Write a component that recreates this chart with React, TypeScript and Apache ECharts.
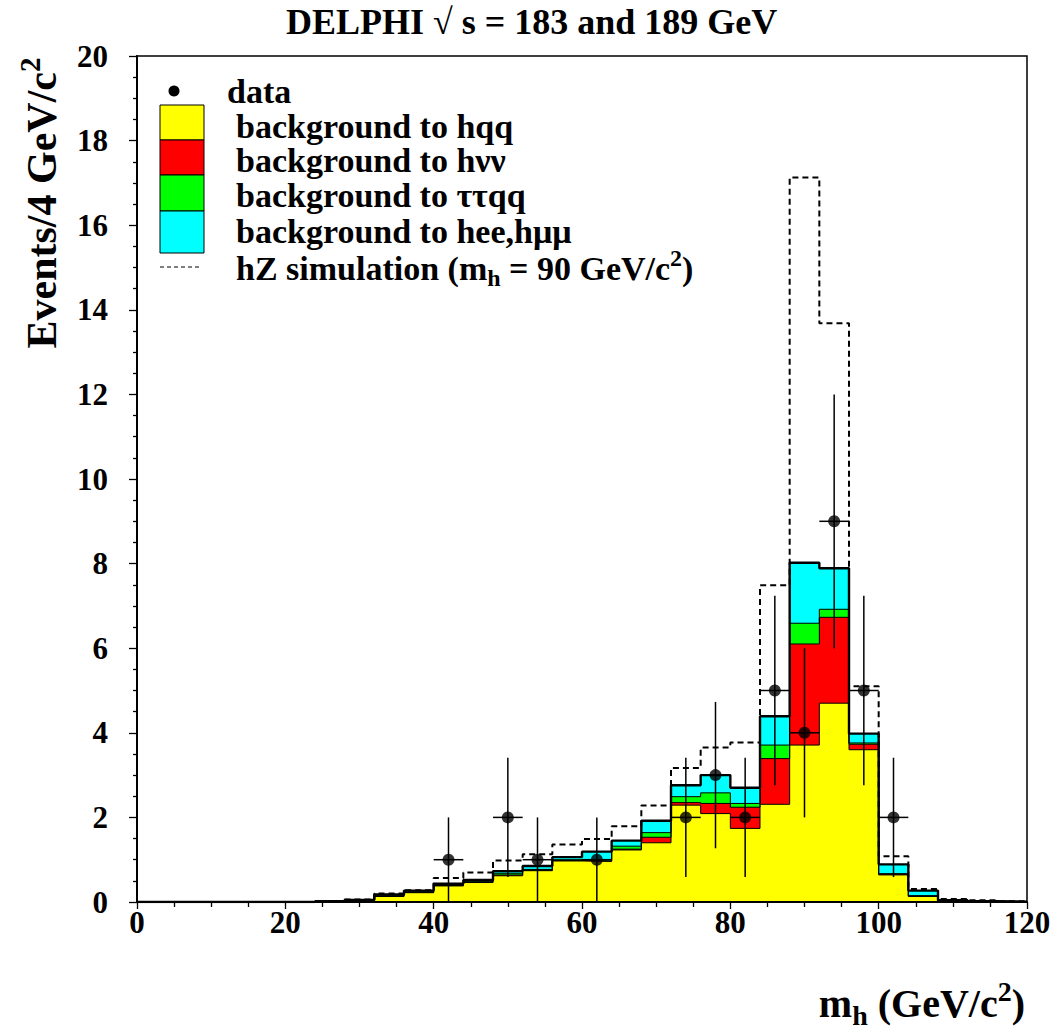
import { useEffect, useRef } from "react";
import * as echarts from "echarts";

const FONT = "'Liberation Serif', 'Times New Roman', serif";

// lower edges of the 4 GeV/c^2 bins, last upper edge is 120
const binLow = [0, 4, 8, 12, 16, 20, 24, 28, 32, 36, 40, 44, 48, 52, 56, 60, 64, 68, 72, 76, 80, 84, 88, 92, 96, 100, 104, 108, 112, 116];
const binHigh = 120;

// background contributions per bin (events / 4 GeV/c^2)
const bgHqq = [0, 0, 0, 0, 0, 0, 0.01, 0.03, 0.13, 0.22, 0.38, 0.46, 0.62, 0.74, 0.97, 0.96, 1.23, 1.4, 2.29, 2.09, 1.74, 2.31, 3.71, 4.7, 3.6, 0.64, 0.13, 0.02, 0.01, 0];
const bgHnn = [0, 0, 0, 0, 0, 0, 0, 0, 0.01, 0.01, 0.01, 0.01, 0.02, 0.01, 0.01, 0.01, 0.02, 0.13, 0.06, 0.24, 0.5, 1.08, 2.39, 2.03, 0.13, 0.02, 0.01, 0, 0, 0];
const bgTtqq = [0, 0, 0, 0, 0, 0, 0, 0.01, 0.01, 0.01, 0.02, 0.02, 0.04, 0.02, 0.02, 0.03, 0.07, 0.11, 0.14, 0.25, 0.09, 0.32, 0.49, 0.19, 0.03, 0.01, 0.01, 0.01, 0, 0];
const bgHeeHmm = [0, 0, 0, 0, 0, 0, 0.01, 0.01, 0.03, 0.03, 0.02, 0.03, 0.05, 0.08, 0.06, 0.19, 0.13, 0.28, 0.27, 0.42, 0.37, 0.68, 1.43, 0.97, 0.22, 0.22, 0.12, 0.01, 0.01, 0.01];

// hZ simulation, mh = 90 GeV/c^2 (dashed)
const hzSim = [0, 0, 0, 0, 0, 0, 0.02, 0.06, 0.2, 0.28, 0.57, 0.7, 0.98, 1.13, 1.36, 1.49, 1.79, 2.28, 3.17, 3.65, 3.77, 7.49, 17.13, 13.68, 5.1, 1.08, 0.31, 0.07, 0.04, 0.02];

// data points
const dataMass = [42, 50, 54, 62, 74, 78, 82, 86, 90, 94, 98, 102];
const dataEvents = [1, 2, 1, 1, 2, 3, 2, 5, 4, 9, 5, 2];
const dataErr = [1, 1.41, 1, 1, 1.41, 1.73, 1.41, 2.24, 2, 3, 2.24, 1.41];
const dataHalfWidth = 2;

const stepData = (vals: number[]) =>
  binLow.map((x, i) => [x, vals[i]]).concat([[binHigh, vals[vals.length - 1]]]);

const addUp = (a: number[], b: number[]) => a.map((v, i) => Math.round((v + b[i]) * 1000) / 1000);

function App() {
  const chartRef = useRef<HTMLDivElement>(null);

  useEffect(() => {
    const chart = echarts.init(chartRef.current, null, { renderer: "svg" });

    // cumulative stack: hqq, +hvv, +ttqq, +hee/hmm
    const cum1 = bgHqq;
    const cum2 = addUp(cum1, bgHnn);
    const cum3 = addUp(cum2, bgTtqq);
    const cum4 = addUp(cum3, bgHeeHmm);

    const histo = (name: string, vals: number[], color: string, lw: number) => ({
      type: "line",
      name,
      data: stepData(vals),
      step: "end",
      symbol: "none",
      silent: true,
      lineStyle: { color: "#000", width: lw },
      areaStyle: { color, opacity: 1 },
      z: 2
    });

    const txt = { fontFamily: FONT, fontWeight: "bold", fill: "#000" };

    const legendRows = [
      { label: "background to hqq", y: 126 },
      { label: "background to h\u03bd\u03bd", y: 160 },
      { label: "background to \u03c4\u03c4qq", y: 195 },
      { label: "background to hee,h\u03bc\u03bc", y: 231 }
    ];

    const option: any = {
      animation: false,
      title: {
        text: "DELPHI \u221a s = 183 and 189 GeV",
        left: 281,
        top: 0,
        padding: [4, 5, 5, 5],
        textStyle: { fontFamily: FONT, fontWeight: "bold", fontSize: 36, color: "#000" }
      },
      grid: {
        left: 137,
        right: 28,
        top: 56,
        bottom: 129,
        show: true,
        borderColor: "#000",
        borderWidth: 1.5,
        backgroundColor: "transparent"
      },
      xAxis: {
        type: "value",
        min: 0,
        max: 120,
        interval: 20,
        z: 10,
        axisLine: { lineStyle: { color: "#000", width: 2 } },
        axisTick: { length: 7, lineStyle: { color: "#000", width: 1.3 } },
        minorTick: { show: true, splitNumber: 4, length: 5, lineStyle: { color: "#000", width: 1.3 } },
        splitLine: { show: false },
        axisLabel: { color: "#000", fontFamily: FONT, fontWeight: "bold", fontSize: 31, margin: 5 }
      },
      yAxis: {
        type: "value",
        min: 0,
        max: 20,
        interval: 2,
        z: 10,
        axisLine: { lineStyle: { color: "#000", width: 2 } },
        axisTick: { length: 8, lineStyle: { color: "#000", width: 1.3 } },
        minorTick: { show: true, splitNumber: 4, length: 4, lineStyle: { color: "#000", width: 1.3 } },
        splitLine: { show: false },
        axisLabel: { color: "#000", fontFamily: FONT, fontWeight: "bold", fontSize: 31, margin: 29 }
      },
      series: [
        histo("background to hee,h\u03bc\u03bc", cum4, "#00ffff", 2.4),
        histo("background to \u03c4\u03c4qq", cum3, "#00ff00", 1),
        histo("background to h\u03bd\u03bd", cum2, "#ff0000", 1),
        histo("background to hqq", cum1, "#ffff00", 1),
        {
          type: "line",
          name: "hZ simulation",
          data: stepData(hzSim),
          step: "end",
          symbol: "none",
          silent: true,
          lineStyle: { color: "#000", width: 2, type: [6, 4] },
          z: 4
        },
        {
          type: "custom",
          name: "data errors",
          data: dataMass.map((x, i) => [x, dataEvents[i], dataErr[i]]),
          encode: { x: 0, y: 1 },
          z: 5,
          silent: true,
          renderItem: (params: any, api: any) => {
            const x = api.value(0);
            const y = api.value(1);
            const e = api.value(2);
            const top = api.coord([x, y + e]);
            const bot = api.coord([x, Math.max(0, y - e)]);
            const l = api.coord([x - dataHalfWidth, y]);
            const r = api.coord([x + dataHalfWidth, y]);
            const st = { stroke: "#000", lineWidth: 1.5 };
            return {
              type: "group",
              children: [
                { type: "line", shape: { x1: top[0], y1: top[1], x2: bot[0], y2: bot[1] }, style: st },
                { type: "line", shape: { x1: l[0], y1: l[1], x2: r[0], y2: r[1] }, style: st }
              ]
            };
          }
        },
        {
          type: "scatter",
          name: "data",
          data: dataMass.map((x, i) => [x, dataEvents[i]]),
          symbol: "circle",
          symbolSize: 12,
          itemStyle: { color: "#000" },
          z: 6
        }
      ],
      graphic: {
        elements: [
          // y axis title
          {
            type: "text",
            x: 42,
            y: 203,
            rotation: Math.PI / 2,
            style: {
              text: "{m|Events/4 GeV/c}{p|2}",
              align: "center",
              verticalAlign: "middle",
              rich: {
                m: { ...txt, fontSize: 42, lineHeight: 54 },
                p: { ...txt, fontSize: 29, lineHeight: 18, verticalAlign: "top" }
              }
            }
          },
          // x axis title
          {
            type: "text",
            x: 1025,
            y: 1003,
            style: {
              text: "{m|m}{s|h}{m| (GeV/c}{p|2}{m|)}",
              align: "right",
              verticalAlign: "middle",
              rich: {
                m: { ...txt, fontSize: 40, lineHeight: 52 },
                s: { ...txt, fontSize: 28, lineHeight: 20, verticalAlign: "bottom" },
                p: { ...txt, fontSize: 28, lineHeight: 16, verticalAlign: "top" }
              }
            }
          },
          // legend
          { type: "circle", shape: { cx: 174, cy: 91, r: 5.5 }, style: { fill: "#000" } },
          { type: "text", x: 227, y: 91, style: { ...txt, text: "data", fontSize: 34, align: "left", verticalAlign: "middle" } },
          { type: "rect", shape: { x: 160, y: 105, width: 44, height: 35 }, style: { fill: "#ffff00", stroke: "#000", lineWidth: 1 } },
          { type: "rect", shape: { x: 160, y: 140, width: 44, height: 35 }, style: { fill: "#ff0000", stroke: "#000", lineWidth: 1 } },
          { type: "rect", shape: { x: 160, y: 175, width: 44, height: 36 }, style: { fill: "#00ff00", stroke: "#000", lineWidth: 1 } },
          { type: "rect", shape: { x: 160, y: 211, width: 44, height: 42 }, style: { fill: "#00ffff", stroke: "#000", lineWidth: 1 } },
          ...legendRows.map((r) => ({
            type: "text",
            x: 236,
            y: r.y,
            style: { ...txt, text: r.label, fontSize: 34, align: "left", verticalAlign: "middle" }
          })),
          { type: "line", shape: { x1: 160, y1: 267, x2: 200, y2: 267 }, style: { stroke: "#000", lineWidth: 1, lineDash: [4, 3] } },
          {
            type: "text",
            x: 236,
            y: 268,
            style: {
              text: "{m|hZ simulation (m}{s|h}{m| = 90 GeV/c}{p|2}{m|)}",
              align: "left",
              verticalAlign: "middle",
              rich: {
                m: { ...txt, fontSize: 34, lineHeight: 44 },
                s: { ...txt, fontSize: 24, lineHeight: 16, verticalAlign: "bottom" },
                p: { ...txt, fontSize: 24, lineHeight: 14, verticalAlign: "top" }
              }
            }
          }
        ]
      }
    };

    chart.setOption(option);
    return () => {
      chart.dispose();
    };
  }, []);

  return (
    <div
      ref={chartRef}
      style={{ position: "fixed", left: 0, top: 0, width: "1055px", height: "1031px", background: "#fff" }}
    ></div>
  );
}

export default App;
